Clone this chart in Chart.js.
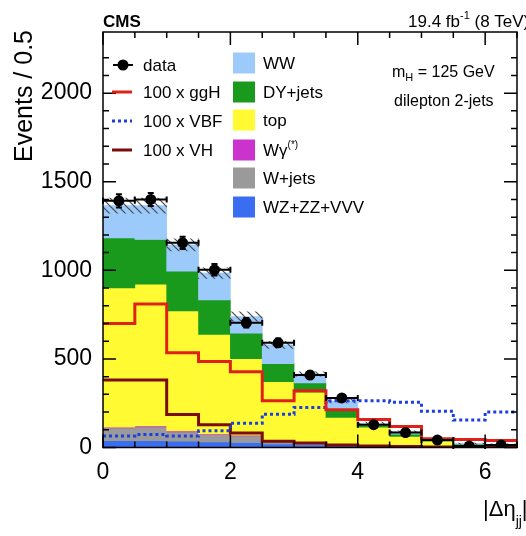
<!DOCTYPE html>
<html>
<head>
<meta charset="utf-8">
<title>CMS dilepton 2-jets</title>
<script src="https://cdn.jsdelivr.net/npm/chart.js@4.4.1/dist/chart.umd.min.js"></script>
<style>
  html, body { margin: 0; padding: 0; background: #fff; overflow: hidden; }
  #wrap { width: 528px; height: 536px; }
</style>
</head>
<body>
<div id="wrap"><canvas id="grafica" width="528" height="536"></canvas></div>
<script>
// bins de |delta eta_jj|, ancho 0.5
const binLow = [0.0, 0.5, 1.0, 1.5, 2.0, 2.5, 3.0, 3.5, 4.0, 4.5, 5.0, 5.5, 6.0];
const binWidth = 0.5;

// fondos apilados (de abajo hacia arriba)
const vvv    = [38, 38, 36, 32, 28, 20, 15, 10, 7, 5, 3, 2, 2];
const wjets  = [72, 78, 52, 40, 38, 12, 10, 6, 4, 2, 1, 1, 1];
const wgamma = [5, 6, 5, 4, 3, 3, 2, 1, 1, 1, 0, 0, 0];
const topq   = [785, 800, 678, 562, 433, 337, 285, 153, 103, 55, 32, 12, 9];
const dyjets = [283, 252, 224, 195, 143, 101, 53, 38, 10, 12, 4, 4, 3];
const ww     = [182, 191, 149, 151, 94, 106, 50, 54, 10, 13, 5, 3, 3];
const bandErr = [42, 42, 34, 30, 26, 20, 12, 10, 8, 6, 4, 3, 3];

// datos
const dataCounts = [1392, 1400, 1155, 1003, 704, 591, 409, 280, 129, 84, 42, 8, 14];
const dataErr    = [37, 37, 34, 32, 27, 24, 20, 17, 11, 9, 6.5, 3, 4];

// senales x100
const ggH = [700, 810, 535, 485, 428, 264, 320, 213, 158, 118, 50, 45, 40];
const vbf = [65, 74, 65, 95, 137, 188, 226, 264, 264, 255, 204, 155, 200];
const vh  = [381, 381, 186, 129, 82, 35, 25, 14, 8, 5, 3, 2, 2];

const xTicks = [0, 2, 4, 6];
const yTicks = [0, 500, 1000, 1500, 2000];

const FONT = "'Liberation Sans', Arial, Helvetica, sans-serif";
Chart.defaults.font.family = FONT;
Chart.defaults.color = '#000';

const STACK = [
    { label: 'WZ+ZZ+VVV', values: vvv, color: '#3a6ef0' },
    { label: 'W+jets', values: wjets, color: '#9a9a9a' },
    { label: 'Wγ', values: wgamma, color: '#cc33cc' },
    { label: 'top', values: topq, color: '#fffa32' },
    { label: 'DY+jets', values: dyjets, color: '#199a1c' },
    { label: 'WW', values: ww, color: '#9ccbfb' }
];
const SIGNALS = [
    { label: '100 x ggH', values: ggH, color: '#e0201b', dash: [] },
    { label: '100 x VBF', values: vbf, color: '#1d3ee0', dash: [3, 3] },
    { label: '100 x VH', values: vh, color: '#7a0c0c', dash: [] }
];

const centers = binLow.map(lo => lo + binWidth / 2);

function hatchPattern(ctx) {
    const c = document.createElement('canvas');
    c.width = 8; c.height = 8;
    const g = c.getContext('2d');
    g.strokeStyle = '#4a4a4a';
    g.lineWidth = 1.2;
    g.beginPath();
    g.moveTo(0, 0); g.lineTo(8, 8);
    g.moveTo(-2, 6); g.lineTo(2, 10);
    g.moveTo(6, -2); g.lineTo(10, 2);
    g.stroke();
    return ctx.createPattern(c, 'repeat');
}

const canvas = document.getElementById('grafica');
const ctx = canvas.getContext('2d');

let base = binLow.map(() => 0);
const stackSets = STACK.map(s => {
    const d = centers.map((x, i) => ({ x: x, y: [base[i], base[i] + s.values[i]] }));
    base = base.map((b, i) => b + s.values[i]);
    return {
        type: 'bar', label: s.label, data: d, backgroundColor: s.color,
        borderWidth: 0, grouped: false, barPercentage: 1, categoryPercentage: 1, order: 3
    };
});
const total = base;

const bandSet = {
    type: 'bar', label: 'unc', order: 2, grouped: false, barPercentage: 1, categoryPercentage: 1,
    borderWidth: 0, backgroundColor: hatchPattern(ctx),
    data: centers.map((x, i) => ({ x: x, y: [total[i] - bandErr[i], total[i] + bandErr[i]] }))
};

const lineSets = SIGNALS.map(s => ({
    type: 'line', label: s.label, order: 1,
    data: binLow.map((x, i) => ({ x: x, y: s.values[i] }))
        .concat([{ x: binLow[binLow.length - 1] + binWidth, y: s.values[s.values.length - 1] }]),
    borderColor: s.color, borderWidth: 3, borderDash: s.dash, stepped: true,
    pointRadius: 0, fill: false, tension: 0
}));

const dataSet = {
    type: 'scatter', label: 'data', order: 0,
    data: centers.map((x, i) => ({ x: x, y: dataCounts[i] })),
    pointRadius: 5.5, pointBackgroundColor: '#000', pointBorderWidth: 0, showLine: false
};

function drawErrorBars(chart) {
    const xs = chart.scales.x, ys = chart.scales.y, c = chart.ctx;
    c.save();
    c.strokeStyle = '#000';
    c.lineWidth = 2;
    c.beginPath();
    binLow.forEach((lo, i) => {
        const xl = xs.getPixelForValue(lo), xr = xs.getPixelForValue(lo + binWidth);
        const xc = xs.getPixelForValue(centers[i]);
        const yc = ys.getPixelForValue(dataCounts[i]);
        const yt = ys.getPixelForValue(dataCounts[i] + dataErr[i]);
        const yb = ys.getPixelForValue(Math.max(0, dataCounts[i] - dataErr[i]));
        c.moveTo(xl, yc); c.lineTo(xr, yc);
        c.moveTo(xl, yc - 3); c.lineTo(xl, yc + 3);
        c.moveTo(xr, yc - 3); c.lineTo(xr, yc + 3);
        c.moveTo(xc, yt); c.lineTo(xc, yb);
        c.moveTo(xc - 3, yt); c.lineTo(xc + 3, yt);
        c.moveTo(xc - 3, yb); c.lineTo(xc + 3, yb);
    });
    c.stroke();
    c.restore();
}

function drawFrame(chart) {
    const { left, right, top, bottom } = chart.chartArea;
    const xs = chart.scales.x, ys = chart.scales.y, c = chart.ctx;
    c.save();
    c.strokeStyle = '#000';
    c.lineWidth = 1.5;
    c.strokeRect(left, top, right - left, bottom - top);
    c.beginPath();
    xs.ticks.forEach(t => {
        const major = xTicks.includes(t.value);
        const len = major ? 13 : 6;
        const px = xs.getPixelForValue(t.value);
        c.moveTo(px, bottom); c.lineTo(px, bottom - len);
        c.moveTo(px, top); c.lineTo(px, top + len);
    });
    ys.ticks.forEach(t => {
        if (t.value % 100 !== 0) return;
        const major = yTicks.includes(t.value);
        const len = major ? 13 : 6;
        const py = ys.getPixelForValue(t.value);
        c.moveTo(left, py); c.lineTo(left + len, py);
        c.moveTo(right, py); c.lineTo(right - len, py);
    });
    c.stroke();
    c.restore();
}

// escribe trozos de texto seguidos (para sub/superindices)
function runText(c, parts, x, y) {
    parts.forEach(p => {
        c.font = (p.bold ? 'bold ' : '') + p.size + 'px ' + FONT;
        c.fillText(p.t, x, y + (p.dy || 0));
        x += c.measureText(p.t).width;
    });
}

function drawTexts(chart) {
    const c = chart.ctx;
    c.save();
    c.fillStyle = '#000';
    c.textBaseline = 'alphabetic';
    c.textAlign = 'left';

    runText(c, [{ t: 'CMS', size: 17, bold: true }], 103, 27);
    runText(c, [{ t: '19.4 fb', size: 17 }, { t: '-1', size: 11, dy: -8 }, { t: ' (8 TeV)', size: 17 }], 408, 27);

    // leyenda izquierda
    const rowL = [65, 92, 121, 150];
    c.strokeStyle = '#000';
    c.lineWidth = 2;
    c.beginPath(); c.moveTo(113, rowL[0]); c.lineTo(133, rowL[0]); c.stroke();
    c.beginPath(); c.arc(123, rowL[0], 5.5, 0, Math.PI * 2); c.fill();
    runText(c, [{ t: 'data', size: 17 }], 143, rowL[0] + 6);
    SIGNALS.forEach((s, i) => {
        const y = rowL[i + 1];
        c.save();
        c.strokeStyle = s.color; c.lineWidth = 3; c.setLineDash(s.dash);
        c.beginPath(); c.moveTo(112, y); c.lineTo(132, y); c.stroke();
        c.restore();
        runText(c, [{ t: s.label, size: 17 }], 143, y + 6);
    });

    // leyenda derecha (cajas)
    const rowR = [63, 92, 120, 150, 178, 207];
    STACK.slice().reverse().forEach((s, i) => {
        const y = rowR[i];
        c.fillStyle = s.color;
        c.fillRect(233, y - 10.5, 22, 21);
        c.fillStyle = '#000';
        if (s.label === 'Wγ') runText(c, [{ t: 'Wγ', size: 17 }, { t: '(*)', size: 10, dy: -8 }], 263, y + 6);
        else runText(c, [{ t: s.label, size: 17 }], 263, y + 6);
    });

    runText(c, [{ t: 'm', size: 16 }, { t: 'H', size: 11, dy: 4 }, { t: ' = 125 GeV', size: 16 }], 392, 77);
    runText(c, [{ t: 'dilepton 2-jets', size: 16 }], 394, 106);

    // titulo eje x
    runText(c, [{ t: '|Δη', size: 22 }, { t: 'jj', size: 14, dy: 10 }, { t: '|', size: 22 }], 483, 516);

    // titulo eje y
    c.save();
    c.translate(32, 96);
    c.rotate(-Math.PI / 2);
    c.textAlign = 'center';
    c.font = '25px ' + FONT;
    c.fillText('Events / 0.5', 0, 0);
    c.restore();

    c.restore();
}

const decor = {
    id: 'cmsDecor',
    beforeDatasetDraw(chart, args) {
        if (chart.data.datasets[args.index].label === 'data') drawErrorBars(chart);
    },
    afterDatasetsDraw(chart) { drawFrame(chart); },
    afterDraw(chart) { drawTexts(chart); }
};

new Chart(ctx, {
    type: 'bar',
    data: { datasets: [dataSet].concat(lineSets, [bandSet], stackSets.slice().reverse()) },
    options: {
        responsive: false,
        animation: false,
        layout: { padding: { top: 32, right: 1, bottom: 0, left: 0 } },
        plugins: { legend: { display: false }, tooltip: { enabled: false } },
        scales: {
            x: {
                type: 'linear', min: 0, max: 6.5, offset: false,
                grid: { display: false, drawTicks: false, offset: false },
                border: { display: false },
                ticks: {
                    stepSize: 0.5, autoSkip: false, maxRotation: 0, padding: 11,
                    font: { size: 23 },
                    callback: v => (xTicks.includes(v) ? String(v) : '')
                },
                afterFit: s => { s.height = 88.5; }
            },
            y: {
                type: 'linear', min: 0, max: 2345,
                grid: { display: false, drawTicks: false },
                border: { display: false },
                ticks: {
                    stepSize: 100, autoSkip: false, padding: 11,
                    font: { size: 23 },
                    callback: v => (yTicks.includes(v) ? String(v) : '')
                },
                afterFit: s => { s.width = 103; }
            }
        }
    },
    plugins: [decor]
});
</script>
</body>
</html>
